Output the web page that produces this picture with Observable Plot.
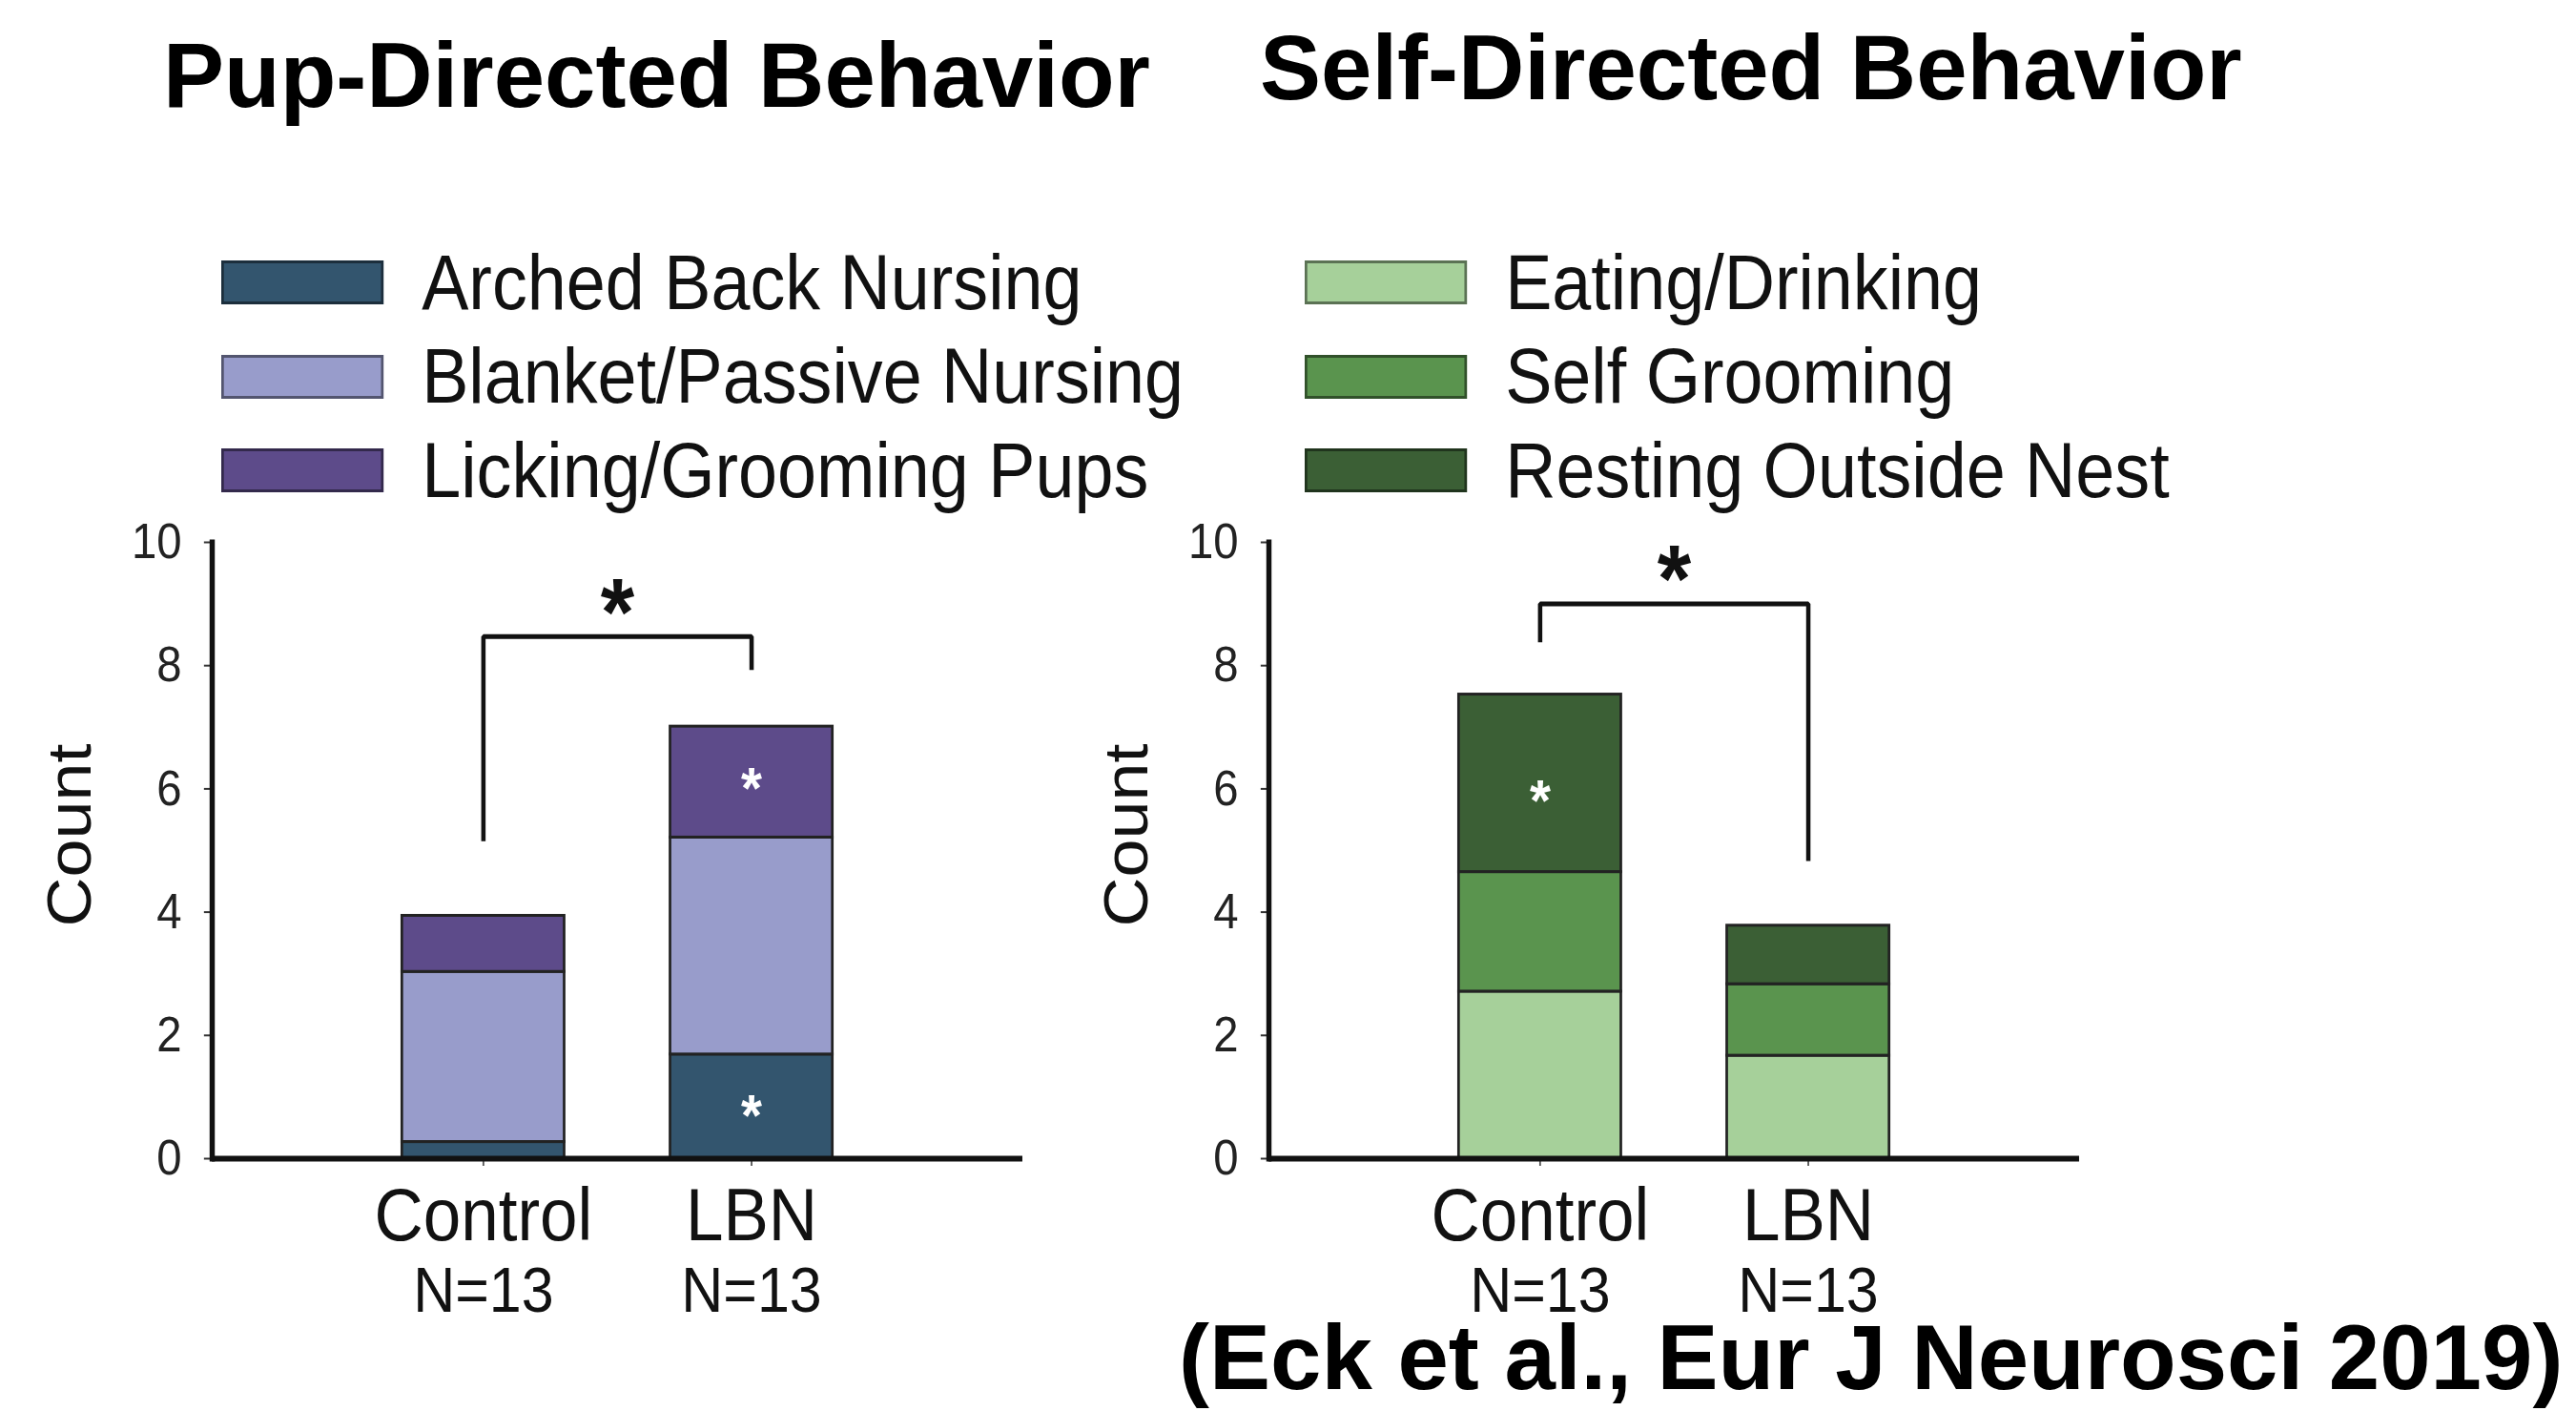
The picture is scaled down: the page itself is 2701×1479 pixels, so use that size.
<!DOCTYPE html>
<html>
<head>
<meta charset="utf-8">
<script src="https://cdn.jsdelivr.net/npm/d3@7"></script>
<script src="https://cdn.jsdelivr.net/npm/@observablehq/plot@0.6"></script>
<style>
  html, body { margin: 0; padding: 0; background: #fff; }
  #root { position: relative; width: 2701px; height: 1479px; background: #fff; overflow: hidden;
          font-family: "Liberation Sans", Arial, Helvetica, sans-serif; color: #111; }
  .title { position: absolute; font-weight: bold; font-size: 96px; line-height: 1; white-space: nowrap; color: #000; }
  .legend { position: absolute; transform: scaleX(0.91); transform-origin: 0 0; }
  .legrow { height: 98.5px; display: flex; align-items: center; }
  .sw { width: 187px; height: 46px; box-sizing: border-box; border: 3px solid rgba(0,0,0,0.45); margin-right: 44px; flex: none; }
  .lt { font-size: 81px; line-height: 1; white-space: nowrap; color: #111; }
  .chart { position: absolute; transform: scaleX(0.91); transform-origin: 0 0; }
</style>
</head>
<body>
<div id="root">
  <div class="title" style="left:171px;top:31px">Pup-Directed Behavior</div>
  <div class="title" style="left:1321px;top:23px">Self-Directed Behavior</div>
  <div id="legL" class="legend" style="left:232px;top:247px"></div>
  <div id="legR" class="legend" style="left:1368px;top:247px"></div>
  <div id="chartL" class="chart" style="left:0px;top:520px"></div>
  <div id="chartR" class="chart" style="left:1108px;top:520px"></div>
  <div class="title" style="left:1236px;top:1375px">(Eck et al., Eur J Neurosci 2019)</div>
</div>
<script>
// ---- data ----
const groups = ["Control", "LBN"];
const nLabels = ["N=13", "N=13"];
const yTicks = [0, 2, 4, 6, 8, 10];

const pupBehaviors = ["Arched Back Nursing", "Blanket/Passive Nursing", "Licking/Grooming Pups"];
const pupColors = ["#33556e", "#989ccb", "#5d4b8a"];
const pupControl = [0.27, 2.76, 0.91];
const pupLBN = [1.69, 3.52, 1.80];
const pupBracketGroups = ["Control", "Control", "LBN", "LBN"];
const pupBracketValues = [5.15, 8.47, 8.47, 7.93];
const pupStarValue = 9.1;
const pupWhiteStarGroups = ["LBN", "LBN"];
const pupWhiteStarValues = [0.83, 6.14];

const selfBehaviors = ["Eating/Drinking", "Self Grooming", "Resting Outside Nest"];
const selfColors = ["#a6d09a", "#5a944e", "#3b5f35"];
const selfControl = [2.71, 1.94, 2.88];
const selfLBN = [1.67, 1.16, 0.95];
const selfBracketGroups = ["Control", "Control", "LBN", "LBN"];
const selfBracketValues = [8.38, 9.0, 9.0, 4.83];
const selfStarValue = 9.63;
const selfWhiteStarGroups = ["Control"];
const selfWhiteStarValues = [5.94];

const FONT = '"Liberation Sans", Arial, Helvetica, sans-serif';

function stackRows(behaviors, controlVals, lbnVals) {
  const rows = [];
  behaviors.forEach((b, i) => {
    rows.push({group: groups[0], behavior: b, value: controlVals[i]});
    rows.push({group: groups[1], behavior: b, value: lbnVals[i]});
  });
  return rows;
}
function zipPts(gs, vs) { return gs.map((g, i) => ({group: g, value: vs[i]})); }

function makeChart(cfg) {
  return Plot.plot({
    width: 1200,
    height: 900,
    marginLeft: 244,
    marginRight: 22,
    marginTop: 48,
    marginBottom: 206,
    style: {fontFamily: FONT, fontSize: "52px", color: "#111", background: "transparent", overflow: "visible"},
    x: {domain: groups, paddingInner: 0.394, paddingOuter: 0.7035, axis: null, label: null},
    y: {domain: [0, 10], axis: null, label: null},
    color: {domain: cfg.behaviors, range: cfg.colors},
    marks: [
      Plot.barY(stackRows(cfg.behaviors, cfg.control, cfg.lbn), {
        x: "group", y: "value", fill: "behavior", order: cfg.behaviors,
        stroke: "#222", strokeWidth: 3
      }),
      Plot.line(zipPts(cfg.bracketGroups, cfg.bracketValues), {
        x: "group", y: "value", stroke: "#111", strokeWidth: 5,
        strokeLinejoin: "miter", strokeLinecap: "butt"
      }),
      Plot.text([cfg.star], {
        y: d => d, text: () => "*", frameAnchor: "middle",
        fontSize: 100, fontWeight: "bold", fill: "#111", dy: 17
      }),
      Plot.text(zipPts(cfg.whiteGroups, cfg.whiteValues), {
        x: "group", y: "value", text: () => "*", fill: "white",
        fontSize: 62, fontWeight: "bold", dy: 9
      }),
      Plot.axisY(yTicks, {label: null, tickFormat: d => String(d), tickSize: 9, tickPadding: 26,
        fontSize: 52, strokeWidth: 2, stroke: "#333", fill: "#222"}),
      Plot.axisX({label: null, tickSize: 8, tickPadding: 22, fontSize: 78, strokeWidth: 2, stroke: "#555", fill: "#111"}),
      Plot.axisX({label: null, tickSize: 0, tickPadding: 113, fontSize: 67, fill: "#111",
        tickFormat: d => nLabels[groups.indexOf(d)]}),
      Plot.ruleY([0], {strokeWidth: 6, stroke: "#111"}),
      Plot.frame({anchor: "left", strokeWidth: 6, stroke: "#111"}),
      Plot.text(["Count"], {
        text: d => d, frameAnchor: "left", dx: -163, dy: 80, rotate: -90,
        fontSize: 72, fill: "#111"
      })
    ]
  });
}

function makeLegend(el, behaviors, colors) {
  behaviors.forEach((b, i) => {
    const row = document.createElement("div");
    row.className = "legrow";
    const sw = document.createElement("div");
    sw.className = "sw";
    sw.style.background = colors[i];
    const t = document.createElement("span");
    t.className = "lt";
    t.textContent = b;
    row.appendChild(sw);
    row.appendChild(t);
    el.appendChild(row);
  });
}

makeLegend(document.getElementById("legL"), pupBehaviors, pupColors);
makeLegend(document.getElementById("legR"), selfBehaviors, selfColors);

document.getElementById("chartL").appendChild(makeChart({
  behaviors: pupBehaviors, colors: pupColors, control: pupControl, lbn: pupLBN,
  bracketGroups: pupBracketGroups, bracketValues: pupBracketValues, star: pupStarValue,
  whiteGroups: pupWhiteStarGroups, whiteValues: pupWhiteStarValues
}));
document.getElementById("chartR").appendChild(makeChart({
  behaviors: selfBehaviors, colors: selfColors, control: selfControl, lbn: selfLBN,
  bracketGroups: selfBracketGroups, bracketValues: selfBracketValues, star: selfStarValue,
  whiteGroups: selfWhiteStarGroups, whiteValues: selfWhiteStarValues
}));
</script>
</body>
</html>
